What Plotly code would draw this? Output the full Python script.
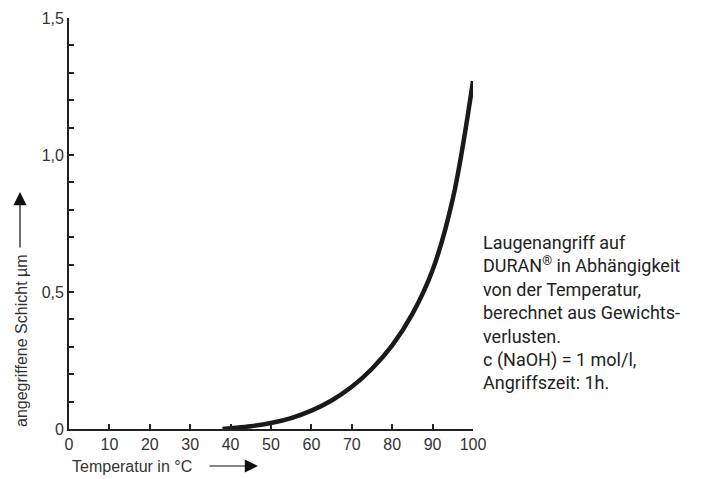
import plotly.graph_objects as go

# Data
temperatur = [38, 40, 45, 50, 55, 60, 65, 70, 75, 80, 85, 90, 95, 100]
schicht = [0.0, 0.003, 0.01, 0.022, 0.04, 0.067, 0.104, 0.154, 0.22, 0.305, 0.42, 0.58, 0.84, 1.27]

x_tickvals = [0, 10, 20, 30, 40, 50, 60, 70, 80, 90, 100]
x_ticktext = ["0", "10", "20", "30", "40", "50", "60", "70", "80", "90", "100"]
y_tickvals = [0, 0.5, 1.0, 1.5]
y_ticktext = ["0", "0,5", "1,0", "1,5"]

x_title = "Temperatur in °C"
y_title = "angegriffene Schicht µm"
note_lines = [
    "Laugenangriff auf",
    "DURAN<sup>®</sup> in Abhängigkeit",
    "von der Temperatur,",
    "berechnet aus Gewichts-",
    "verlusten.",
    "c (NaOH) = 1 mol/l,",
    "Angriffszeit: 1h.",
]

axis_color = "#222222"
text_color = "#333333"
font_main = "Liberation Sans, Arial, Helvetica, sans-serif"

fig = go.Figure()
fig.add_trace(go.Scatter(
    x=temperatur, y=schicht, mode="lines",
    line=dict(color="#1a1a1a", width=4.5, shape="spline", smoothing=1.0),
    showlegend=False, hoverinfo="skip",
))

# page body has an 8px default margin -> figure is 8px smaller and shifted
fig.update_layout(
    width=702, height=471,
    margin=dict(l=61, r=237, t=10, b=50),
    paper_bgcolor="white", plot_bgcolor="white",
    font=dict(family=font_main, size=16, color=text_color),
    xaxis=dict(
        range=[0, 100], showgrid=False, zeroline=False, automargin=False,
        showline=True, linecolor=axis_color, linewidth=1.8,
        ticks="inside", ticklen=5, tickwidth=1.5, tickcolor=axis_color,
        tickvals=x_tickvals, ticktext=x_ticktext,
        tickfont=dict(size=16, color=text_color),
    ),
    yaxis=dict(
        range=[0, 1.5], showgrid=False, zeroline=False, automargin=False,
        showline=True, linecolor=axis_color, linewidth=1.8,
        ticks="inside", ticklen=5, tickwidth=1.5, tickcolor=axis_color,
        tickvals=y_tickvals, ticktext=y_ticktext,
        tickfont=dict(size=16, color=text_color),
        minor=dict(dtick=0.1, ticks="inside", ticklen=5, tickwidth=1.5, tickcolor=axis_color),
    ),
)

# Axis titles with arrows
fig.add_annotation(
    xref="paper", yref="paper", x=(21 - 69) / 404, y=(429 - 341) / 411,
    xanchor="center", yanchor="middle",
    text=y_title, textangle=-90, showarrow=False,
    font=dict(size=16, color=text_color),
)
fig.add_annotation(
    xref="paper", yref="paper", x=(20 - 69) / 404, y=(429 - 192) / 411,
    ax=0, ay=57, axref="pixel", ayref="pixel",
    text="", showarrow=True, arrowhead=2, arrowsize=2.2, arrowwidth=1.2, arrowcolor="#111111",
)
fig.add_annotation(
    xref="paper", yref="paper", x=(70 - 69) / 404, y=-(466 - 429) / 411,
    xanchor="left", yanchor="middle",
    text=x_title, showarrow=False,
    font=dict(size=16, color=text_color),
)
fig.add_annotation(
    xref="paper", yref="paper", x=(258 - 69) / 404, y=-(466 - 429) / 411,
    ax=-50, ay=0, axref="pixel", ayref="pixel",
    text="", showarrow=True, arrowhead=2, arrowsize=2.2, arrowwidth=1.2, arrowcolor="#111111",
)

# Note text on the right
fig.add_annotation(
    xref="paper", yref="paper", x=(481 - 69) / 404, y=(429 - 230) / 411,
    xanchor="left", yanchor="top", align="left", showarrow=False,
    text="<br>".join(note_lines),
    font=dict(family="Roboto, Arial, sans-serif", size=18, color="#222222"),
)

fig.write_html("out.html")
